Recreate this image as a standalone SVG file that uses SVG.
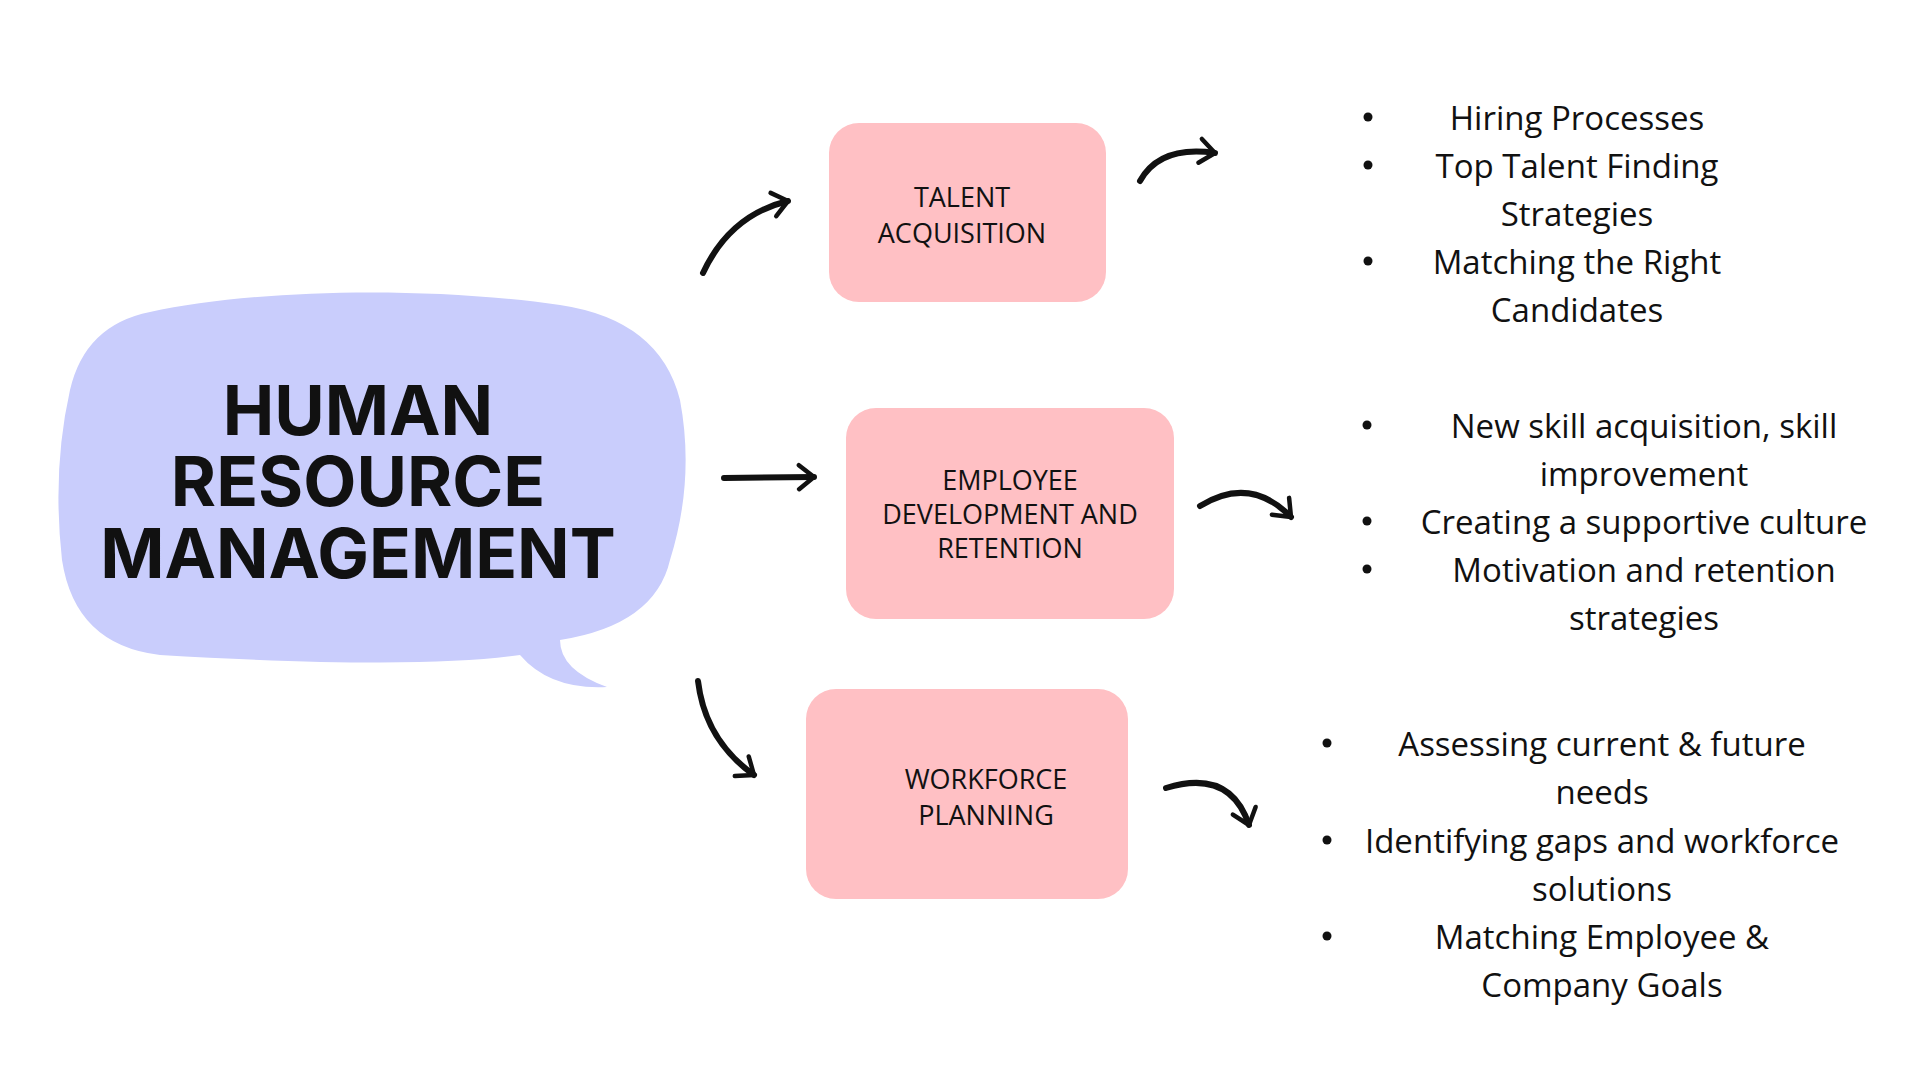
<svg xmlns="http://www.w3.org/2000/svg" width="1920" height="1080" viewBox="0 0 1920 1080">
<style>
.box{fill:#ffc0c4}
.bt{font-family:"Open Sans","Liberation Sans",sans-serif;font-size:27px;fill:#111;text-anchor:middle;dominant-baseline:central}
.li{font-family:"Open Sans","Liberation Sans",sans-serif;font-size:33px;fill:#111;text-anchor:middle;dominant-baseline:central}
.dot{fill:#111}
.ar{fill:none;stroke:#111;stroke-width:6;stroke-linecap:round;marker-end:url(#h)}
</style>
<defs>
<marker id="h" viewBox="0 0 20 20" refX="14" refY="10" markerWidth="5" markerHeight="5" orient="auto" markerUnits="strokeWidth">
<path d="M4 2 L14 10 L4 18" fill="none" stroke="#111" stroke-width="3" stroke-linecap="round" stroke-linejoin="round"/>
</marker>
</defs>
<rect width="1920" height="1080" fill="#fff"/>
<g id="hrm">
<path d="M150 312 C250 290 420 285 560 305 Q660 320 680 400 Q695 480 670 560 Q655 625 560 640 Q560 670 607 687 Q550 690 520 655 Q420 670 160 655 Q75 645 62 560 Q52 470 70 390 Q85 325 150 312 Z" fill="#c9cdfc"/>
<text font-family="Inter,'Liberation Sans',sans-serif" font-weight="700" font-size="69" fill="#111" text-anchor="middle"><tspan x="358" y="435">HUMAN</tspan><tspan x="358" y="506">RESOURCE</tspan><tspan x="358" y="578">MANAGEMENT</tspan></text>
</g>
<g id="talent"><rect class="box" x="829" y="123" width="277" height="179" rx="30"/>
<text class="bt"><tspan x="962" y="196">TALENT</tspan><tspan x="962" y="232">ACQUISITION</tspan></text></g>
<g id="employee"><rect class="box" x="846" y="408" width="328" height="211" rx="30"/>
<text class="bt" font-size="26"><tspan x="1010" y="479">EMPLOYEE</tspan><tspan x="1010" y="513">DEVELOPMENT AND</tspan><tspan x="1010" y="547">RETENTION</tspan></text></g>
<g id="workforce"><rect class="box" x="806" y="689" width="322" height="210" rx="30"/>
<text class="bt"><tspan x="986" y="778">WORKFORCE</tspan><tspan x="986" y="814">PLANNING</tspan></text></g>
<g id="list1">
<circle class="dot" cx="1368" cy="117" r="4.5"/><circle class="dot" cx="1368" cy="165" r="4.5"/><circle class="dot" cx="1368" cy="261" r="4.5"/>
<text class="li"><tspan x="1577" y="117">Hiring Processes</tspan><tspan x="1577" y="165">Top Talent Finding</tspan><tspan x="1577" y="213">Strategies</tspan><tspan x="1577" y="261">Matching the Right</tspan><tspan x="1577" y="309">Candidates</tspan></text></g>
<g id="list2">
<circle class="dot" cx="1367" cy="425" r="4.5"/><circle class="dot" cx="1367" cy="521" r="4.5"/><circle class="dot" cx="1367" cy="569" r="4.5"/>
<text class="li"><tspan x="1644" y="425">New skill acquisition, skill</tspan><tspan x="1644" y="473">improvement</tspan><tspan x="1644" y="521">Creating a supportive culture</tspan><tspan x="1644" y="569">Motivation and retention</tspan><tspan x="1644" y="617">strategies</tspan></text></g>
<g id="list3">
<circle class="dot" cx="1327" cy="743" r="4.5"/><circle class="dot" cx="1327" cy="840" r="4.5"/><circle class="dot" cx="1327" cy="936" r="4.5"/>
<text class="li"><tspan x="1602" y="743">Assessing current &amp; future</tspan><tspan x="1602" y="791">needs</tspan><tspan x="1602" y="840">Identifying gaps and workforce</tspan><tspan x="1602" y="888">solutions</tspan><tspan x="1602" y="936">Matching Employee &amp;</tspan><tspan x="1602" y="984">Company Goals</tspan></text></g>
<g id="connectors">
<path class="ar" d="M703 273 Q730 215 788 201"/>
<path class="ar" d="M1140 181 Q1160 145 1215 153"/>
<path class="ar" d="M724 478 L814 477"/>
<path class="ar" d="M1200 506 Q1250 475 1291 517"/>
<path class="ar" d="M698 681 Q705 740 754 775"/>
<path class="ar" d="M1166 788 Q1230 768 1249 825"/>
</g>
</svg>
